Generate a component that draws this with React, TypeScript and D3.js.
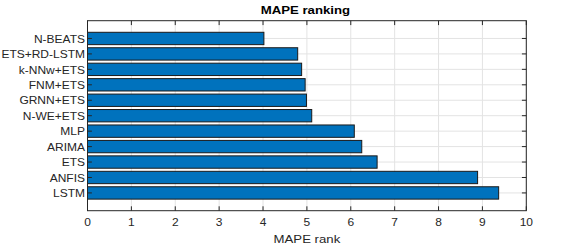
import React from "react";
import * as d3 from "d3";

const categories = [
  "N-BEATS",
  "ETS+RD-LSTM",
  "k-NNw+ETS",
  "FNM+ETS",
  "GRNN+ETS",
  "N-WE+ETS",
  "MLP",
  "ARIMA",
  "ETS",
  "ANFIS",
  "LSTM",
];
const mapeRank = [4.02, 4.79, 4.88, 4.96, 4.99, 5.11, 6.08, 6.25, 6.6, 8.89, 9.37];
const xTicks = [0, 1, 2, 3, 4, 5, 6, 7, 8, 9, 10];

const W = 581;
const H = 245;
const left = 87.5;
const right = 526.3;
const top = 20.7;
const bottom = 210.7;
const SX = 1.2;
const FONT = "'Liberation Sans', Arial, Helvetica, sans-serif";
const AX = "#262626";

export default function App() {
  const x = d3.scaleLinear().domain([0, 10]).range([left, right]);
  const y = d3.scaleLinear().domain([-1.15, 11.15]).range([top, bottom]);
  const band = y(0.4) - y(0);
  const tl = 4.4;

  return (
    <svg width={W} height={H} style={{ position: "absolute", left: 0, top: 0 }}>
      <rect x={0} y={0} width={W} height={H} fill="#fff" />
      {/* grid */}
      {xTicks.map((t) => (
        <line key={"gx" + t} x1={x(t)} x2={x(t)} y1={top} y2={bottom} stroke="#e3e3e3" strokeWidth={1} />
      ))}
      {categories.map((c, i) => (
        <line key={"gy" + c} x1={left} x2={right} y1={y(i)} y2={y(i)} stroke="#e3e3e3" strokeWidth={1} />
      ))}
      {/* bars */}
      {categories.map((c, i) => (
        <rect
          key={"b" + c}
          x={x(0)}
          y={y(i) - band}
          width={x(mapeRank[i]) - x(0)}
          height={band * 2}
          fill="#0072BD"
          stroke="#1a1a1a"
          strokeWidth={1}
        />
      ))}
      {/* box */}
      <rect x={left} y={top} width={right - left} height={bottom - top} fill="none" stroke={AX} strokeWidth={1} />
      {/* x ticks */}
      {xTicks.map((t) => (
        <g key={"xt" + t}>
          <line x1={x(t)} x2={x(t)} y1={bottom} y2={bottom - tl} stroke={AX} />
          <line x1={x(t)} x2={x(t)} y1={top} y2={top + tl} stroke={AX} />
          <text
            transform={`translate(${x(t)},${bottom + 15.5}) scale(${SX},1)`}
            textAnchor="middle"
            fontFamily={FONT}
            fontSize={10}
            fill={AX}
          >
            {t}
          </text>
        </g>
      ))}
      {/* y ticks */}
      {categories.map((c, i) => (
        <g key={"yt" + c}>
          <line x1={left} x2={left + tl} y1={y(i)} y2={y(i)} stroke={AX} />
          <line x1={right} x2={right - tl} y1={y(i)} y2={y(i)} stroke={AX} />
          <text
            transform={`translate(${left - 2.5},${y(i) + 4.2}) scale(${SX},1)`}
            textAnchor="end"
            fontFamily={FONT}
            fontSize={10}
            fill={AX}
          >
            {c}
          </text>
        </g>
      ))}
      {/* title */}
      <text
        transform={`translate(${(left + right) / 2 - 1.5},${14.3}) scale(${SX},1)`}
        textAnchor="middle"
        fontFamily={FONT}
        fontSize={11}
        fontWeight="bold"
        fill="#000"
      >
        MAPE ranking
      </text>
      {/* x label */}
      <text
        transform={`translate(${(left + right) / 2},${242.5}) scale(${SX},1)`}
        textAnchor="middle"
        fontFamily={FONT}
        fontSize={11}
        fill={AX}
      >
        MAPE rank
      </text>
    </svg>
  );
}
